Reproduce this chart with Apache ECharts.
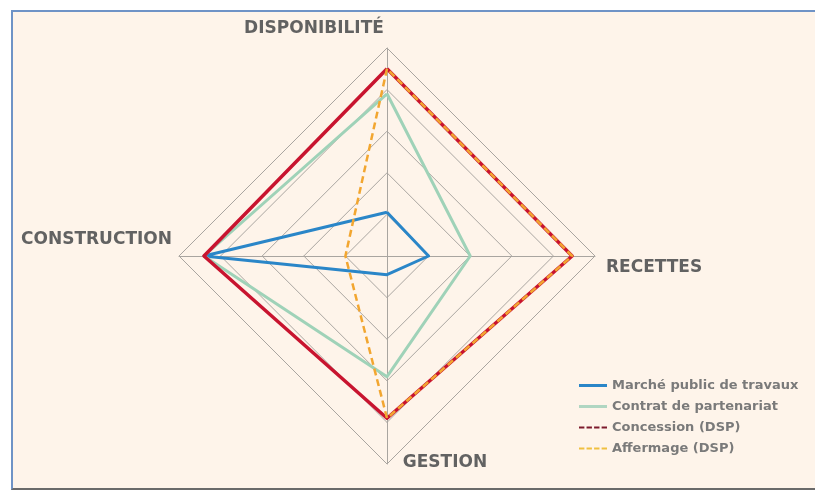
<!DOCTYPE html>
<html>
<head>
<meta charset="utf-8">
<script src="https://cdn.jsdelivr.net/npm/echarts@6/dist/echarts.min.js"></script>
<style>
  html, body { margin: 0; padding: 0; background: #ffffff; overflow: hidden; }
  #frame {
    position: absolute; left: 11px; top: 10px; width: 804px; height: 476px;
    background: #fef4ea;
    border-left: 2px solid #6f93c6; border-top: 2px solid #6f93c6; border-bottom: 2px solid #6a6a6a;
  }
  #chart { position: absolute; left: 0; top: 0; width: 815px; height: 491px; }
</style>
</head>
<body>
<div id="frame"></div>
<div id="chart"></div>
<script type="text/javascript">
// axes, counter-clockwise from the top
var axisNames = ['DISPONIBILITÉ', 'CONSTRUCTION', 'GESTION', 'RECETTES'];
var axisMax = 5;

var seriesNames = ['Marché public de travaux', 'Contrat de partenariat', 'Concession (DSP)', 'Affermage (DSP)'];
var marchePublic = [1.05, 4.4, 0.45, 1.0];
var contratPartenariat = [3.9, 4.4, 2.9, 2.0];
var concession = [4.5, 4.4, 3.9, 4.45];
var affermage = [4.5, 1.0, 3.9, 4.45];

var labelStyles = {
    'DISPONIBILITÉ': 'top',
    'CONSTRUCTION': 'left',
    'GESTION': 'bottom',
    'RECETTES': 'right'
};

var chart = echarts.init(document.getElementById('chart'));

var dash = 'path://M0,0h5v2h-5z M7,0h5v2h-5z M14,0h5v2h-5z M21,0h5v2h-5z';
var nameFont = {color: '#626262', fontSize: 17, fontWeight: 'bold', fontFamily: 'DejaVu Sans'};

function nameRich(pad) {
    return Object.assign({padding: pad}, nameFont);
}

option = {
    backgroundColor: 'transparent',
    legend: {
        orient: 'vertical',
        left: 574,
        top: 374,
        itemWidth: 28,
        itemHeight: 3,
        itemGap: 8,
        textStyle: {
            color: '#7a7a7a',
            fontSize: 13,
            fontWeight: 'bold',
            fontFamily: 'DejaVu Sans'
        },
        data: [
            {name: seriesNames[0], icon: 'rect', itemStyle: {color: '#2a86c8'}},
            {name: seriesNames[1], icon: 'rect', itemStyle: {color: '#b0d6c2'}},
            {name: seriesNames[2], icon: dash, itemStyle: {color: '#7d1a2c'}},
            {name: seriesNames[3], icon: dash, itemStyle: {color: '#f0c040'}}
        ]
    },
    radar: {
        center: [387, 256],
        radius: 208,
        shape: 'polygon',
        splitNumber: 5,
        nameGap: -10,
        indicator: axisNames.map(function (n) { return {name: n, max: axisMax, min: 0}; }),
        axisName: {
            color: nameFont.color,
            fontSize: nameFont.fontSize,
            formatter: function (n) { return '{' + labelStyles[n] + '|' + n + '}'; },
            rich: {
                top: nameRich([0, 146, 21, 0]),
                left: nameRich([0, 17, 32, 0]),
                right: nameRich([24, 0, 0, 21]),
                bottom: nameRich([0, 0, 0, 116])
            }
        },
        splitArea: {show: false},
        splitLine: {lineStyle: {color: '#a9a5a0', width: 1}},
        axisLine: {lineStyle: {color: '#a9a5a0', width: 1}}
    },
    series: [{
        type: 'radar',
        symbol: 'none',
        silent: true,
        data: [
            {name: seriesNames[0], value: marchePublic,
             lineStyle: {color: '#2a86c8', width: 3}, itemStyle: {color: '#2a86c8'}},
            {name: seriesNames[1], value: contratPartenariat,
             lineStyle: {color: '#9fd2b8', width: 3}, itemStyle: {color: '#9fd2b8'}},
            {name: seriesNames[2], value: concession,
             lineStyle: {color: '#c8142f', width: 3.5}, itemStyle: {color: '#c8142f'}},
            {name: seriesNames[3], value: affermage,
             lineStyle: {color: '#f2a630', width: 2.5, type: [7, 4]}, itemStyle: {color: '#f2a630'}}
        ]
    }]
};
chart.setOption(option);
</script>
</body>
</html>
